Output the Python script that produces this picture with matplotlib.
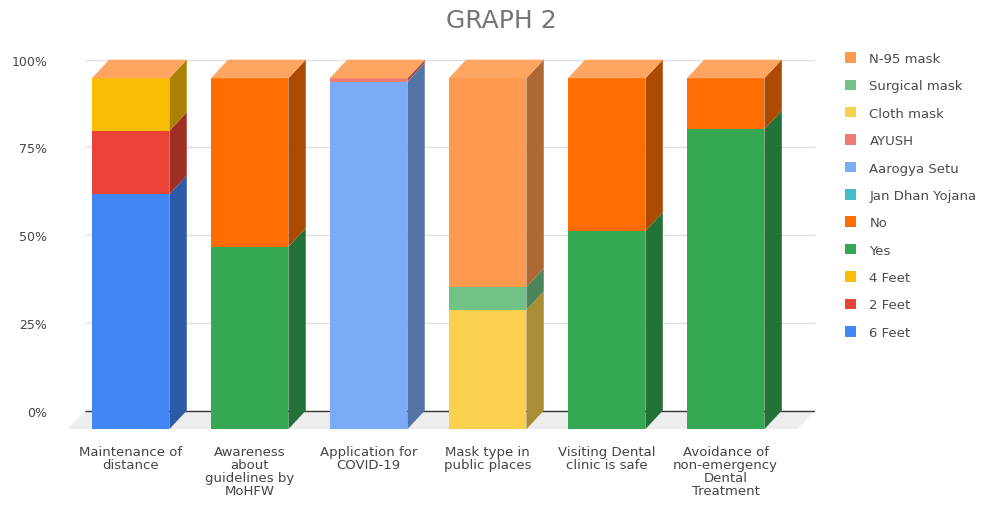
import matplotlib
matplotlib.use("Agg")
import matplotlib.pyplot as plt
from matplotlib.patches import Polygon, Patch
import matplotlib.colors as mcolors
import numpy as np

# ---------------- data ----------------
categories = [
    "Maintenance of\ndistance",
    "Awareness\nabout\nguidelines by\nMoHFW",
    "Application for\nCOVID-19",
    "Mask type in\npublic places",
    "Visiting Dental\nclinic is safe",
    "Avoidance of\nnon-emergency\nDental\nTreatment",
]
series_names = ["6 Feet", "2 Feet", "4 Feet", "Yes", "No", "Jan Dhan Yojana",
                "Aarogya Setu", "AYUSH", "Cloth mask", "Surgical mask", "N-95 mask"]
six_feet      = [67, 0, 0, 0, 0, 0]
two_feet      = [18, 0, 0, 0, 0, 0]
four_feet     = [15, 0, 0, 0, 0, 0]
yes_vals      = [0, 52, 0, 0, 56.5, 85.5]
no_vals       = [0, 48, 0, 0, 43.5, 14.5]
jan_dhan      = [0, 0, 0, 0, 0, 0]
aarogya_setu  = [0, 0, 99, 0, 0, 0]
ayush         = [0, 0, 1, 0, 0, 0]
cloth_mask    = [0, 0, 0, 34, 0, 0]
surgical_mask = [0, 0, 0, 6.5, 0, 0]
n95_mask      = [0, 0, 0, 59.5, 0, 0]
series_values = [six_feet, two_feet, four_feet, yes_vals, no_vals, jan_dhan,
                 aarogya_setu, ayush, cloth_mask, surgical_mask, n95_mask]
series_colors = ["#4285F4", "#EA4335", "#FBBC04", "#34A853", "#FF6D01", "#46BDC6",
                 "#7BAAF7", "#F07B72", "#FCD04F", "#71C287", "#FF994D"]
yticks = [0, 25, 50, 75, 100]
ytick_labels = ["0%", "25%", "50%", "75%", "100%"]

# ---------------- style ----------------
W, H = 990, 506
DEPTH_X = 0.146     # 3D depth in category units
DEPTH_Y = 5.3       # 3D depth in percent units
BAR_W = 0.652
XMIN, XMAX = -0.529, 5.605
YMIN, YMAX = -6, 100

def shade(c, f):
    r, g, b = mcolors.to_rgb(c)
    return (r * f, g * f, b * f)

def tint(c, f):
    r, g, b = mcolors.to_rgb(c)
    return (r + (1 - r) * f, g + (1 - g) * f, b + (1 - b) * f)

fig = plt.figure(figsize=(W / 100, H / 100), dpi=100)
top_px, bot_px = 60.7, 432.6
ax = fig.add_axes([85 / W, 1 - bot_px / H, 730 / W, (bot_px - top_px) / H])
ax.set_xlim(XMIN, XMAX)
ax.set_ylim(YMIN, YMAX)
for s in ax.spines.values():
    s.set_visible(False)

x = np.arange(len(categories))
xf = x - DEPTH_X

# gridlines and floor
ax.hlines(yticks[1:], XMIN, XMAX, color="#e0e0e0", lw=1, zorder=0)
floor = Polygon([(XMIN, 0), (XMAX, 0), (XMAX - DEPTH_X, -DEPTH_Y), (XMIN - DEPTH_X, -DEPTH_Y)],
                closed=True, fc="#ededed", ec="none", zorder=0.5, clip_on=False)
ax.add_patch(floor)
ax.hlines(0, XMIN, XMAX, color="#3a3a3a", lw=1, zorder=1)

# 3D stacked bars
cum = np.zeros(len(categories))
for name, vals, col in zip(series_names, series_values, series_colors):
    vals = np.array(vals, dtype=float)
    ax.bar(xf, vals, bottom=cum - DEPTH_Y, width=BAR_W, color=col, lw=0,
           zorder=3, clip_on=False)
    for i in range(len(categories)):
        if vals[i] <= 0:
            continue
        b, t = cum[i], cum[i] + vals[i]
        xr = xf[i] + BAR_W / 2
        side = Polygon([(xr, b - DEPTH_Y), (xr + DEPTH_X, b), (xr + DEPTH_X, t), (xr, t - DEPTH_Y)],
                       closed=True, fc=shade(col, 0.68), ec="none", zorder=3, clip_on=False)
        ax.add_patch(side)
    cum = cum + vals

# top caps (drawn in the colour of the last series, as the source chart does)
cap_col = tint(series_colors[-1], 0.12)
for i in range(len(categories)):
    t = cum[i]
    xl = xf[i] - BAR_W / 2
    xr = xf[i] + BAR_W / 2
    cap = Polygon([(xl, t - DEPTH_Y), (xr, t - DEPTH_Y), (xr + DEPTH_X, t), (xl + DEPTH_X, t)],
                  closed=True, fc=cap_col, ec="none", zorder=4, clip_on=False)
    ax.add_patch(cap)

# ticks
ax.set_yticks(yticks, ytick_labels)
ax.tick_params(axis="y", length=0, pad=27, labelsize=9, labelcolor="#444444")
ax.set_xticks(xf, categories)
ax.tick_params(axis="x", length=0, pad=10, labelsize=9.5, labelcolor="#444444")
for lbl in ax.get_xticklabels():
    lbl.set_linespacing(1.0)

# title
fig.text(501 / W, 1 - 21 / H, "GRAPH 2", ha="center", va="center",
         fontsize=18, color="#757575")

# legend
handles = [Patch(facecolor=c, edgecolor="none", label=n)
           for n, c in zip(series_names, series_colors)][::-1]
fig.legend(handles=handles, loc="upper left", bbox_to_anchor=(845 / W, 1 - 53 / H),
           frameon=False, fontsize=9.5, handlelength=0.85, handleheight=0.85,
           handletextpad=1.0, labelspacing=1.09, borderaxespad=0, borderpad=0,
           labelcolor="#4a4a4a")

fig.savefig("out.png", dpi=100)
